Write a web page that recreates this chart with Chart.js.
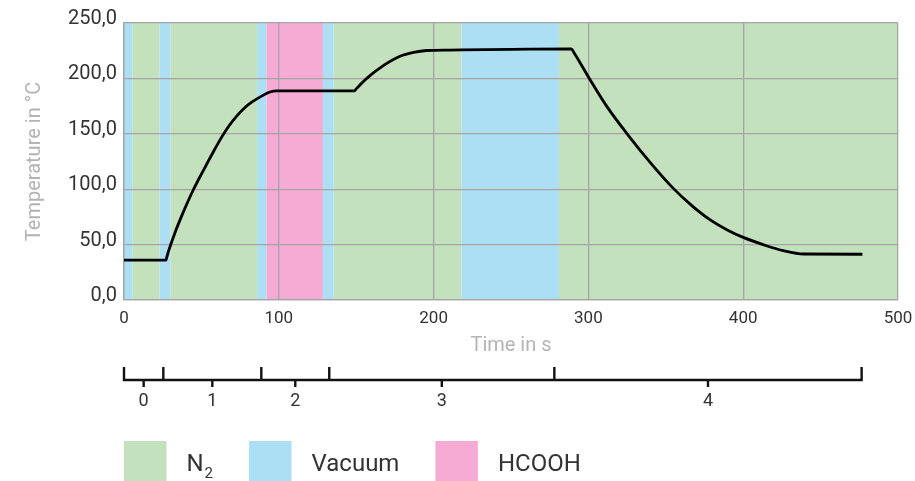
<!DOCTYPE html>
<html>
<head>
<meta charset="utf-8">
<script src="https://cdn.jsdelivr.net/npm/chart.js@4.4.1/dist/chart.umd.min.js"></script>
<style>
  html, body { margin: 0; padding: 0; background: #fff; }
  #wrap { width: 915px; height: 481px; }
</style>
</head>
<body>
<div id="wrap"><canvas id="tempChart" width="915" height="481"></canvas></div>
<script>
// Temperaturprofil mit Gasphasen
const timeS = [0, 27.1, 27.8, 29.7, 33, 37, 41, 44.8, 49, 53.4, 58, 63.1, 68, 72.8, 78, 82.5, 88.9, 94.3, 98.6,
  148.8, 150.3, 156.8, 167.5, 178.3, 187, 195.5, 210, 250, 289, 290.5, 300.6, 312, 325, 340, 355, 367, 378.5, 390,
  400, 415, 426, 439, 477];
const tempC = [36, 36, 39.5, 48, 61, 75, 88, 99.5, 111, 122.5, 134.5, 147, 157.5, 166, 173.5, 178.5, 184, 187.7, 188.8,
  188.8, 191, 200, 211.5, 220, 223.5, 225.2, 225.6, 226.2, 226.7, 223.7, 200, 174.5, 150, 124, 100.5, 85, 72.5, 63,
  56.5, 49, 44.5, 41.5, 41.3];

// gas bands along the time axis
const bandEdges = [0, 5.5, 23, 30, 86, 92, 128.5, 135.5, 218, 281, 500];
const bandGas = ['Vacuum', 'N2', 'Vacuum', 'N2', 'Vacuum', 'HCOOH', 'Vacuum', 'N2', 'Vacuum', 'N2'];

// process phases below the chart
const phaseEdges = [0, 25.4, 88.7, 132.6, 278, 476.5];
const phaseLabels = ['0', '1', '2', '3', '4'];

const legendGas = ['N2', 'Vacuum', 'HCOOH'];
const gasColor = { N2: '#c3e1bd', Vacuum: '#acdff4', HCOOH: '#f5abd3' };

const ctx = document.getElementById('tempChart').getContext('2d');

const phasePlugin = {
  id: 'phases',
  beforeDraw(chart) {
    const { ctx, chartArea: a, scales: { x } } = chart;
    ctx.save();
    bandGas.forEach((g, i) => {
      const x1 = x.getPixelForValue(bandEdges[i]);
      const x2 = x.getPixelForValue(bandEdges[i + 1]);
      ctx.fillStyle = gasColor[g];
      ctx.fillRect(x1, a.top, x2 - x1, a.bottom - a.top);
    });
    ctx.restore();
  },
  afterDraw(chart) {
    const { ctx, scales: { x } } = chart;
    const y0 = 380;
    ctx.save();
    // phase timeline
    ctx.strokeStyle = '#111';
    ctx.lineWidth = 2.4;
    ctx.beginPath();
    ctx.moveTo(x.getPixelForValue(phaseEdges[0]) - 1.2, y0);
    ctx.lineTo(x.getPixelForValue(phaseEdges[phaseEdges.length - 1]) + 1.2, y0);
    phaseEdges.forEach(e => {
      const px = x.getPixelForValue(e);
      ctx.moveTo(px, y0);
      ctx.lineTo(px, 367);
    });
    ctx.stroke();
    ctx.fillStyle = '#333';
    ctx.font = '18px Roboto';
    ctx.textAlign = 'center';
    ctx.textBaseline = 'middle';
    phaseLabels.forEach((lab, i) => {
      const px = x.getPixelForValue((phaseEdges[i] + phaseEdges[i + 1]) / 2);
      ctx.beginPath();
      ctx.moveTo(px, y0);
      ctx.lineTo(px, 387);
      ctx.stroke();
      ctx.fillText(lab, px, 401);
    });

    // legend
    let lx = x.getPixelForValue(0);
    ctx.textAlign = 'left';
    ctx.textBaseline = 'alphabetic';
    legendGas.forEach(g => {
      ctx.fillStyle = gasColor[g];
      ctx.fillRect(lx, 441, 42.5, 40);
      lx += 42.5 + 20;
      ctx.fillStyle = '#333';
      ctx.font = '24px Roboto';
      if (g === 'N2') {
        ctx.fillText('N', lx, 471);
        const w = ctx.measureText('N').width;
        ctx.font = '15px Roboto';
        ctx.fillText('2', lx + w + 1, 478);
        lx += w + 1 + ctx.measureText('2').width;
      } else {
        ctx.fillText(g, lx, 471);
        lx += ctx.measureText(g).width;
      }
      lx += 36;
    });
    ctx.restore();
  }
};

new Chart(ctx, {
  type: 'line',
  data: {
    datasets: [{
      label: 'Temperature',
      data: timeS.map((t, i) => ({ x: t, y: tempC[i] })),
      borderColor: '#000',
      borderWidth: 2.8,
      pointRadius: 0,
      fill: false,
      cubicInterpolationMode: 'monotone'
    }]
  },
  options: {
    responsive: false,
    animation: false,
    layout: { padding: { left: 19, right: 17, top: 23, bottom: 119 } },
    plugins: {
      legend: { display: false },
      tooltip: { enabled: false }
    },
    scales: {
      x: {
        type: 'linear',
        min: 0,
        max: 500,
        ticks: { stepSize: 100, color: '#333', font: { family: 'Roboto', size: 17 }, padding: 9, maxRotation: 0 },
        grid: { color: '#a5a5a5', lineWidth: 1.3, drawTicks: false },
        border: { color: '#a5a5a5', width: 1.3 },
        title: { display: true, text: 'Time in s', color: '#b4b4b4', font: { family: 'Roboto', size: 20 } },
        afterFit(scale) {
          scale.height = 62;
          scale.paddingLeft = 0;
          scale.paddingRight = 0;
        }
      },
      y: {
        min: 0,
        max: 250,
        ticks: {
          stepSize: 50, color: '#333', font: { family: 'Roboto', size: 20 }, padding: 7, labelOffset: -4,
          callback: v => v.toFixed(1).replace('.', ',')
        },
        grid: { color: '#a5a5a5', lineWidth: 1.3, drawTicks: false },
        border: { color: '#a5a5a5', width: 1.3 },
        title: { display: true, text: 'Temperature in °C', color: '#b4b4b4', font: { family: 'Roboto', size: 20 } },
        afterFit(scale) { scale.width = 105; }
      }
    }
  },
  plugins: [phasePlugin]
});
</script>
</body>
</html>
